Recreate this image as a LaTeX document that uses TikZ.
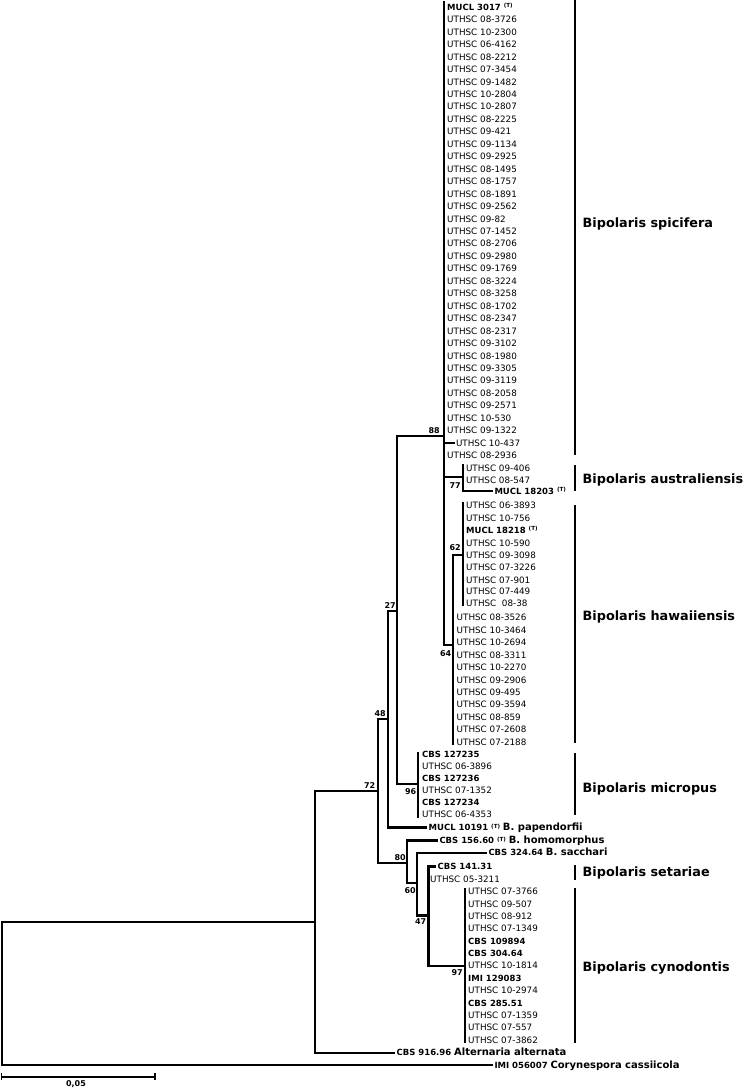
\documentclass[tikz,border=0pt]{standalone}
\usepackage{fontspec}
\setmainfont{DejaVu Sans}
\newcommand{\tT}{\ \raisebox{2.6pt}{\fontsize{5.6pt}{6pt}\selectfont\bfseries(T)}}
\newcommand{\bstr}[1]{{\fontsize{8.5pt}{10pt}\selectfont\bfseries #1}}
\newcommand{\spn}[1]{{\fontsize{10pt}{12pt}\selectfont\bfseries #1}}
\begin{document}
\begin{tikzpicture}[x=1pt,y=-1pt,
  br/.style={line width=2.2pt, line cap=rect},
  lbr/.style={line width=2.2pt, line cap=rect, shorten >=2.2pt},
  leaf/.style={anchor=west, inner sep=0pt, text height=6.2pt, text depth=0pt, font=\fontsize{8.8pt}{10pt}\selectfont},
  boot/.style={inner sep=0pt, font=\fontsize{8pt}{9pt}\selectfont\bfseries},
  clade/.style={anchor=west, inner sep=0pt, text height=9.3pt, text depth=0pt, font=\fontsize{12.8pt}{14pt}\selectfont\bfseries},
  cbar/.style={line width=2.2pt}]
\useasboundingbox (0,0) rectangle (745,1089);

% ---------- internal nodes ----------
\coordinate (r) at (2,921.8);
\coordinate (n1) at (315,921.8);
\coordinate (n72) at (378,791);
\coordinate (n48) at (388,719.3);
\coordinate (n27) at (397.3,610.7);
\coordinate (n88) at (444,435.7);
\coordinate (n77) at (462.7,477.3);
\coordinate (n64) at (453.3,645);
\coordinate (n62) at (462.7,555);
\coordinate (n96) at (418.3,784.3);
\coordinate (n80) at (407,862.7);
\coordinate (n60) at (417.3,883.3);
\coordinate (n47) at (428.5,915.5);
\coordinate (n97) at (465,965.7);
% vertical ends of tip groups
\coordinate (n88t) at (444,2.5);
\coordinate (n77t) at (462.7,465.5);
\coordinate (n62t) at (462.7,502.7);
\coordinate (n62b) at (462.7,605);
\coordinate (n64b) at (453.3,744);
\coordinate (n96t) at (418.3,752.7);
\coordinate (n96b) at (418.3,816.5);
\coordinate (n97t) at (465,889.5);
\coordinate (n97b) at (465,1041.7);

% ---------- tips: Bipolaris spicifera ----------
\node[leaf] (s0) at (447,7.3) {\bstr{MUCL 3017\tT}};
\foreach \t [count=\i from 1] in {08-3726,10-2300,06-4162,08-2212,07-3454,09-1482,10-2804,10-2807,08-2225,09-421,09-1134,09-2925,08-1495,08-1757,08-1891,09-2562,09-82,07-1452,08-2706,09-2980,09-1769,08-3224,08-3258,08-1702,08-2347,08-2317,09-3102,08-1980,09-3305,09-3119,08-2058,09-2571,10-530,09-1322}
  \node[leaf] (s\i) at (447,{7.3+12.45*\i}) {UTHSC \t};
\node[leaf] (s35) at (455.8,443.3) {UTHSC 10-437};
\node[leaf] (s36) at (447,455.5) {UTHSC 08-2936};

% ---------- Bipolaris australiensis ----------
\node[leaf] (a1) at (465.8,468.3) {UTHSC 09-406};
\node[leaf] (a2) at (465.8,480.7) {UTHSC 08-547};
\node[leaf] (a3) at (494.3,491) {\bstr{MUCL 18203\tT}};

% ---------- Bipolaris hawaiiensis ----------
\foreach \y/\t [count=\k] in {505.7/UTHSC 06-3893,518/UTHSC 10-756,530/\bstr{MUCL 18218\tT},543.3/UTHSC 10-590,555.3/UTHSC 09-3098,567.7/UTHSC 07-3226,580.3/UTHSC 07-901,591.8/UTHSC 07-449,603.3/UTHSC~ 08-38}
  \node[leaf] (h\k) at (466,\y) {\t};
\foreach \y/\t [count=\k] in {617.7/08-3526,630/10-3464,642.7/10-2694,655/08-3311,667.3/10-2270,680/09-2906,692.3/09-495,704.7/09-3594,717.3/08-859,729.3/07-2608,742/07-2188}
  \node[leaf] (hh\k) at (456.5,\y) {UTHSC \t};

% ---------- Bipolaris micropus ----------
\foreach \y/\t [count=\k] in {754.7/\bstr{CBS 127235},766.7/UTHSC 06-3896,778.5/\bstr{CBS 127236},790.7/UTHSC 07-1352,802.5/\bstr{CBS 127234},814/UTHSC 06-4353}
  \node[leaf] (m\k) at (422,\y) {\t};

% ---------- singletons ----------
\node[leaf] (pap) at (428.5,827.5) {\bstr{MUCL 10191\tT}\ \spn{B. papendorfii}};
\node[leaf] (hom) at (439.3,840.5) {\bstr{CBS 156.60\tT}\ \spn{B. homomorphus}};
\node[leaf] (sac) at (488.3,852.7) {\bstr{CBS 324.64}\ \spn{B. sacchari}};

% ---------- Bipolaris setariae ----------
\node[leaf] (set1) at (437.5,866.5) {\bstr{CBS 141.31}};
\node[leaf] (set2) at (430,879.3) {UTHSC 05-3211};

% ---------- Bipolaris cynodontis ----------
\foreach \y/\t [count=\k] in {891.3/UTHSC 07-3766,904/UTHSC 09-507,916.7/UTHSC 08-912,928.7/UTHSC 07-1349,941.3/\bstr{CBS 109894},953.7/\bstr{CBS 304.64},965.7/UTHSC 10-1814,978.3/\bstr{IMI 129083},990.7/UTHSC 10-2974,1003.3/\bstr{CBS 285.51},1015.3/UTHSC 07-1359,1027.7/UTHSC 07-557,1040/UTHSC 07-3862}
  \node[leaf] (c\k) at (468,\y) {\t};

% ---------- outgroups ----------
\node[leaf] (alt) at (396.5,1052.7) {\bstr{CBS 916.96}\ \spn{Alternaria alternata}};
\node[leaf] (cory) at (494.3,1065) {\bstr{IMI 056007}\ \spn{Corynespora cassiicola}};

% ---------- vertical lines ----------
\draw[br] (r) -- (r |- cory.west);
\draw[br] (n1 |- n72) -- (n1 |- alt.west);
\draw[br] (n72 |- n48) -- (n72 |- n80);
\draw[br] (n48 |- n27) -- (n48 |- pap.west);
\draw[br] (n27 |- n88) -- (n27 |- n96);
\draw[br] (n88t) -- (n88 |- n64);
\draw[br] (n77t) -- (n77 |- a3.west);
\draw[br] (n62t) -- (n62b);
\draw[br] (n64 |- n62) -- (n64b);
\draw[br] (n96t) -- (n96b);
\draw[br] (n80 |- hom.west) -- (n80 |- n60);
\draw[br] (n60 |- sac.west) -- (n60 |- n47);
\draw[br] (n47 |- set1.west) -- (n47 |- n97);
\draw[br] (n97t) -- (n97b);

% ---------- horizontal branches ----------
\draw[br] (r) -- (n1);
\draw[br] (n1 |- n72) -- (n72);
\draw[br] (n72 |- n48) -- (n48);
\draw[br] (n72 |- n80) -- (n80);
\draw[br] (n48 |- n27) -- (n27);
\draw[br] (n27 |- n88) -- (n88);
\draw[br] (n27 |- n96) -- (n96);
\draw[br] (n88 |- n77) -- (n77);
\draw[br] (n88 |- n64) -- (n64);
\draw[br] (n64 |- n62) -- (n62);
\draw[br] (n80 |- n60) -- (n60);
\draw[br] (n60 |- n47) -- (n47);
\draw[br] (n47 |- n97) -- (n97);
\draw[lbr] (n88 |- s35.west) -- (s35.west);
\draw[lbr] (n77 |- a3.west) -- (a3.west);
\draw[lbr] (n48 |- pap.west) -- (pap.west);
\draw[lbr] (n80 |- hom.west) -- (hom.west);
\draw[lbr] (n60 |- sac.west) -- (sac.west);
\draw[lbr] (n47 |- set1.west) -- (set1.west);
\draw[lbr] (n1 |- alt.west) -- (alt.west);
\draw[lbr] (r |- cory.west) -- (cory.west);

% ---------- bootstrap values ----------
\node[boot, anchor=south east] (b72) at (375.5,789) {72};
\node[boot, anchor=south east] (b48) at (386,717) {48};
\node[boot, anchor=south east] (b27) at (396,608.5) {27};
\node[boot, anchor=south east] (b88) at (440,433.5) {88};
\node[boot, anchor=north east] (b77) at (461,482.5) {77};
\node[boot, anchor=south east] (b62) at (461,550.5) {62};
\node[boot, anchor=north east] (b64) at (451.5,650.5) {64};
\node[boot, anchor=north east] (b96) at (416.5,788.5) {96};
\node[boot, anchor=south east] (b80) at (406,860.5) {80};
\node[boot, anchor=north east] (b60) at (416,887.5) {60};
\node[boot, anchor=north east] (b47) at (426.5,918.5) {47};
\node[boot, anchor=north east] (b97) at (463,969.5) {97};

% ---------- clade bars and names ----------
\draw[cbar] (575,0.5) -- (575,455);
\draw[cbar] (575,465) -- (575,490.7);
\draw[cbar] (575,505) -- (575,743.3);
\draw[cbar] (575,753.3) -- (575,815);
\draw[cbar] (575,865) -- (575,880);
\draw[cbar] (575,888.3) -- (575,1042.7);
\node[clade] (cs) at (582.5,222.7) {Bipolaris spicifera};
\node[clade] (ca) at (582.5,479) {Bipolaris australiensis};
\node[clade] (ch) at (582.5,616) {Bipolaris hawaiiensis};
\node[clade] (cm) at (582.5,787.7) {Bipolaris micropus};
\node[clade] (cst) at (582.5,871.7) {Bipolaris setariae};
\node[clade] (cc) at (582.5,966.7) {Bipolaris cynodontis};

% ---------- scale bar ----------
\coordinate (sb1) at (1.7,1076.7);
\coordinate (sb2) at (155,1076.7);
\draw[line width=1.7pt] (sb1) -- (sb2);
\draw[line width=1.4pt] ([yshift=-3.5pt]sb1) -- ([yshift=3.5pt]sb1);
\draw[line width=1.4pt] ([yshift=-3.5pt]sb2) -- ([yshift=3.5pt]sb2);
\node[boot, anchor=north] (sbl) at (76,1080.8) {0,05};
\end{tikzpicture}
\end{document}
